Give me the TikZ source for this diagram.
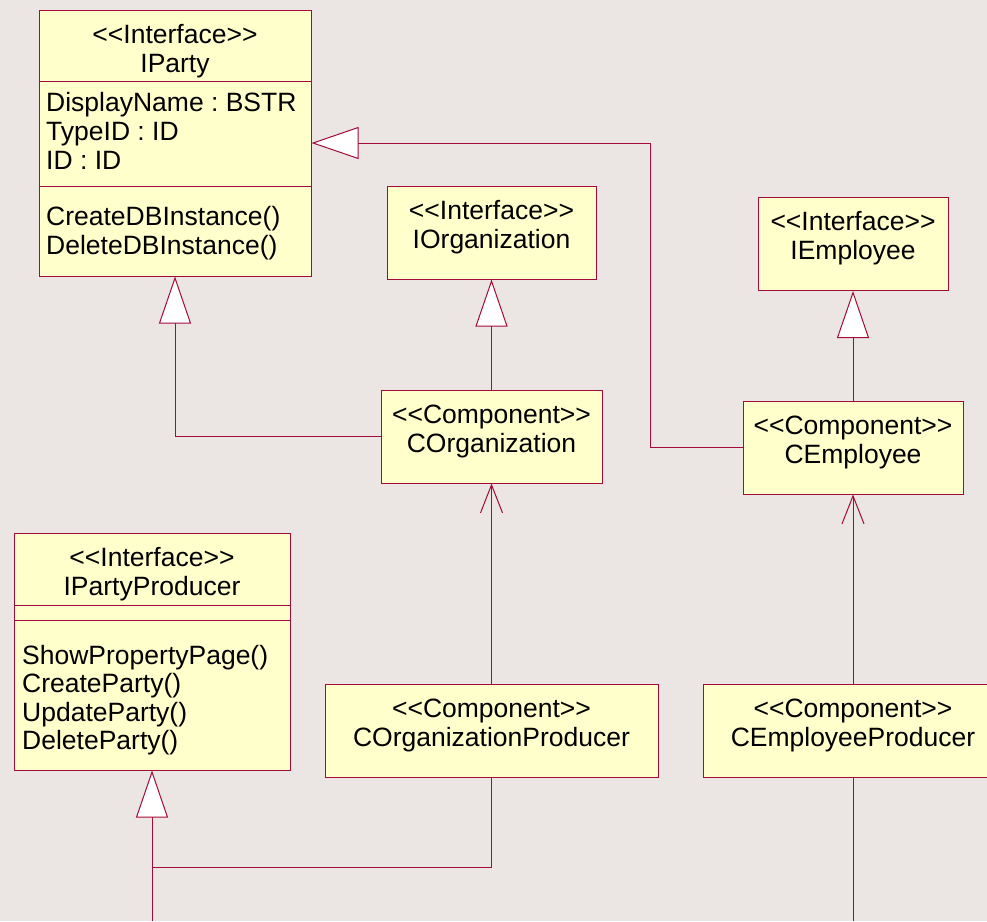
\documentclass[tikz,border=0pt]{standalone}
\usepackage{fontspec}
\newfontfamily\umlfont{Liberation Sans}[Ligatures=TeXOff]
\usetikzlibrary{arrows.meta}
\definecolor{umlline}{RGB}{165,10,60}
\definecolor{umlfill}{RGB}{255,255,204}
\definecolor{umlback}{RGB}{235,230,227}
\newcommand{\umltext}{\umlfont\fontsize{26.5pt}{29pt}\selectfont}
\frenchspacing
\tikzstyle{classbox} = [rectangle, draw=umlline, fill=umlfill, line width=1pt, align=center, inner sep=0pt, text height=62pt, text depth=31pt, font=\umltext]
\tikzstyle{members} = [align=left, inner sep=0pt, anchor=north west, font=\umltext]
\tikzstyle{wire} = [draw=umlline, line width=1pt]
\tikzstyle{realize} = [wire, -{Triangle[length=47pt, width=32pt, fill=white]}]
\tikzstyle{depend} = [wire, -{Straight Barb[length=28pt, width=22pt]}]

\begin{document}
\begin{tikzpicture}[x=1pt, y=-1pt]
		\fill [umlback] (0,0) rectangle (987,921);
		\useasboundingbox (0,0) rectangle (987,921);
		\clip (0,0) rectangle (987,921);
		% interfaces
		\node (iparty) [classbox, minimum width=272pt, text depth=204pt] at (175,143) {<<Interface>>\\IParty};
		\node (iorg) [classbox, minimum width=209pt] at (491.5,232.5) {<<Interface>>\\IOrganization};
		\node (iemp) [classbox, minimum width=190pt] at (853,244) {<<Interface>>\\IEmployee};
		\node (ipartyprod) [classbox, minimum width=276pt, text depth=175pt] at (152,651.5) {<<Interface>>\\IPartyProducer};
		% components
		\node (corg) [classbox, minimum width=221pt] at (491.5,436.5) {<<Component>>\\COrganization};
		\node (cemp) [classbox, minimum width=220pt] at (853,447.5) {<<Component>>\\CEmployee};
		\node (corgprod) [classbox, minimum width=333pt] at (491.5,730.5) {<<Component>>\\COrganizationProducer};
		\node (cempprod) [classbox, minimum width=300pt] at (853,730.5) {<<Component>>\\CEmployeeProducer};
		% compartments
		\draw [wire] (iparty.west |- 0,81) -- (iparty.east |- 0,81);
		\draw [wire] (iparty.west |- 0,186) -- (iparty.east |- 0,186);
		\draw [wire] (ipartyprod.west |- 0,605) -- (ipartyprod.east |- 0,605);
		\draw [wire] (ipartyprod.west |- 0,620) -- (ipartyprod.east |- 0,620);
		\node (ipartyattr) [members] at (46,92) {DisplayName : BSTR\\TypeID : ID\\ID : ID};
		\node (ipartyops) [members] at (46,206) {CreateDBInstance()\\DeleteDBInstance()};
		\node (ipartyprodops) [members, font=\umlfont\fontsize{26.5pt}{28.4pt}\selectfont] at (22,645) {ShowPropertyPage()\\CreateParty()\\UpdateParty()\\DeleteParty()};
		% connectors
		\coordinate (prodjoin) at (152,867);
		\coordinate (prodbottom) at (152,921);
		\coordinate (empbottom) at (853,921);
		\draw [realize] (corg.west) -| (iparty.south);
		\draw [realize] (corg.north) -- (iorg.south);
		\draw [realize] (cemp.west) -- ++(-92,0) |- (iparty.east);
		\draw [realize] (cemp.north) -- (iemp.south);
		\draw [depend] (corgprod.north) -- (corg.south);
		\draw [depend] (cempprod.north) -- (cemp.south);
		\draw [realize] (corgprod.south) |- (prodjoin) -- (ipartyprod.south);
		\draw [wire] (prodbottom) -- (prodjoin);
		\draw [wire] (cempprod.south) -- (empbottom);
	\end{tikzpicture}
\end{document}
